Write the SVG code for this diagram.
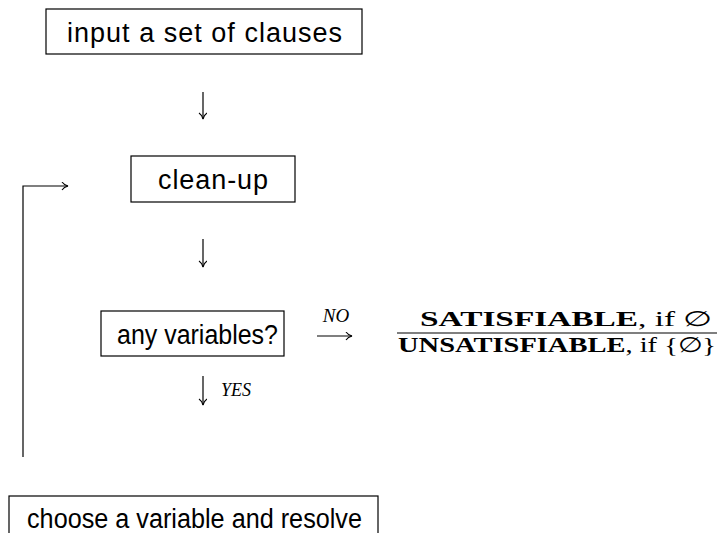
<svg xmlns="http://www.w3.org/2000/svg" width="719" height="533" viewBox="0 0 719 533">
<defs>
<style>
.box{fill:#fff;stroke:#000;stroke-width:1.2}
.t{font-family:"Liberation Sans","Arial",sans-serif;font-size:27px;fill:#000}
.m{font-family:"Liberation Serif","Times New Roman",serif;fill:#000}
.c{stroke:#000;stroke-width:1.2;fill:none}
</style>
<marker id="ah" markerWidth="10" markerHeight="10" refX="7" refY="4" orient="auto" markerUnits="userSpaceOnUse">
<path d="M1,0 Q3,3 7,4 Q3,5 1,8" fill="none" stroke="#000" stroke-width="1.1"/>
</marker>
</defs>
<rect width="719" height="533" fill="#fff"/>
<g id="connectors">
<line class="c" x1="203" y1="92" x2="203" y2="119" marker-end="url(#ah)"/>
<line class="c" x1="203" y1="239" x2="203" y2="267" marker-end="url(#ah)"/>
<line class="c" x1="203" y1="376" x2="203" y2="405" marker-end="url(#ah)"/>
<line class="c" x1="317" y1="336" x2="352" y2="336" marker-end="url(#ah)"/>
<polyline class="c" points="23,457 23,186 68,186" marker-end="url(#ah)"/>
<text class="m" x="336" y="322" font-size="19" font-style="italic" text-anchor="middle">NO</text>
<text class="m" x="221" y="396" font-size="18" font-style="italic">YES</text>
</g>
<g id="input">
<rect class="box" x="46" y="9" width="316" height="45"/>
<text class="t" x="67" y="42" textLength="275" lengthAdjust="spacing">input a set of clauses</text>
</g>
<g id="cleanup">
<rect class="box" x="131" y="156" width="164" height="46"/>
<text class="t" x="158" y="189" textLength="110" lengthAdjust="spacing">clean-up</text>
</g>
<g id="anyvars">
<rect class="box" x="101" y="311" width="183" height="45"/>
<text class="t" x="117" y="344" font-size="27" textLength="161" lengthAdjust="spacingAndGlyphs">any variables?</text>
</g>
<g id="result">
<text class="m" x="420" y="326" font-size="21" textLength="292" lengthAdjust="spacingAndGlyphs"><tspan font-weight="bold">SATISFIABLE</tspan>, if ∅</text>
<line x1="397" y1="333" x2="717" y2="333" stroke="#000" stroke-width="1.2"/>
<text class="m" x="398" y="352" font-size="21" textLength="318" lengthAdjust="spacingAndGlyphs"><tspan font-weight="bold">UNSATISFIABLE</tspan>, if {∅}</text>
</g>
<g id="choose">
<rect class="box" x="9" y="496" width="369" height="50"/>
<text class="t" x="27" y="528" font-size="26" textLength="335" lengthAdjust="spacingAndGlyphs">choose a variable and resolve</text>
</g>
</svg>
